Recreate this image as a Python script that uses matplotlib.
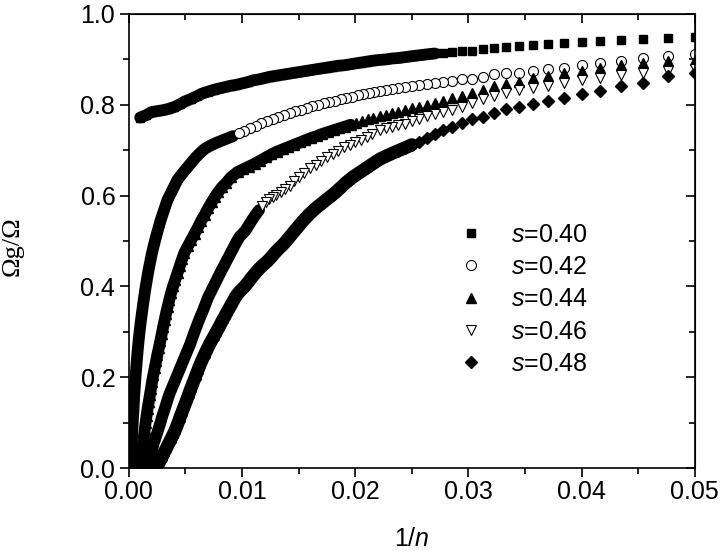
import matplotlib
matplotlib.use("Agg")
import matplotlib.pyplot as plt
from matplotlib.ticker import MultipleLocator, FormatStrFormatter

plt.rcParams["font.family"] = ["Liberation Sans", "DejaVu Sans"]
plt.rcParams["mathtext.fontset"] = "custom"
plt.rcParams["mathtext.rm"] = "Liberation Sans"
plt.rcParams["mathtext.it"] = "Liberation Sans:italic"

# n values of the sparse right part (x = 1/n)
n_sparse = [20, 21, 22, 23, 24, 25, 26, 27, 28, 29, 30, 31, 32,
            33, 34, 35, 36, 37, 38, 39, 40, 41, 42, 43, 44, 45]

# s = 0.40
x_040 = [0.0010, 0.0015, 0.0020, 0.0025, 0.0030, 0.0035, 0.0040, 0.0045, 0.0050, 0.0055,
         0.0060, 0.0065, 0.0070, 0.0075, 0.0080, 0.0085, 0.0090, 0.0095, 0.0100, 0.0105,
         0.0110, 0.0115, 0.0120, 0.0125, 0.0130, 0.0135, 0.0140, 0.0145, 0.0150, 0.0155,
         0.0160, 0.0165, 0.0170, 0.0175, 0.0180, 0.0185, 0.0190, 0.0195, 0.0200, 0.0205,
         0.0210, 0.0215]
y_040 = [0.772, 0.777, 0.784, 0.786, 0.788, 0.791, 0.795, 0.801, 0.808, 0.813,
         0.819, 0.825, 0.829, 0.833, 0.836, 0.839, 0.842, 0.844, 0.847, 0.850,
         0.854, 0.856, 0.859, 0.862, 0.864, 0.866, 0.868, 0.870, 0.872, 0.874,
         0.876, 0.878, 0.880, 0.882, 0.884, 0.886, 0.887, 0.889, 0.891, 0.893,
         0.895, 0.897]
ys_040 = [0.949, 0.947, 0.944, 0.942, 0.941, 0.938, 0.936, 0.933, 0.932, 0.930, 0.928, 0.926, 0.922,
          0.919, 0.919, 0.916, 0.915, 0.913, 0.911, 0.909, 0.907, 0.905, 0.903, 0.902, 0.900, 0.899]

# s = 0.42
x_042 = [0.00015, 0.00018, 0.00021, 0.00024, 0.00027, 0.0003, 0.00033, 0.00036, 0.0004, 0.00043,
         0.00046, 0.0005, 0.00054, 0.00058, 0.00063, 0.00068, 0.00073, 0.00078, 0.00084, 0.0009,
         0.00097, 0.00104, 0.00112, 0.0012, 0.00128, 0.00137, 0.00146, 0.00156, 0.00166, 0.00177,
         0.00189, 0.00201, 0.00215, 0.0023, 0.00246, 0.00263, 0.0028, 0.003, 0.0032, 0.0034,
         0.0037, 0.004, 0.0043, 0.0047, 0.0051, 0.0055, 0.0059, 0.0063, 0.0067, 0.0072,
         0.0077, 0.0082, 0.0087, 0.0092, 0.0097, 0.0102, 0.0107, 0.0112, 0.0117, 0.0122,
         0.0127, 0.0132, 0.0137, 0.0142, 0.0147, 0.0152, 0.0157, 0.0162, 0.0167, 0.0172,
         0.0177, 0.0182, 0.0187, 0.0192, 0.0197, 0.0202, 0.0207, 0.0212, 0.0217]
y_042 = [0.00, 0.02, 0.035, 0.05, 0.065, 0.08, 0.095, 0.11, 0.125, 0.14,
         0.155, 0.17, 0.185, 0.2, 0.215, 0.23, 0.245, 0.26, 0.275, 0.29,
         0.305, 0.32, 0.335, 0.35, 0.365, 0.38, 0.395, 0.41, 0.425, 0.44,
         0.455, 0.47, 0.485, 0.50, 0.515, 0.53, 0.545, 0.56, 0.575, 0.59,
         0.605, 0.62, 0.635, 0.648, 0.66, 0.672, 0.684, 0.694, 0.703, 0.71,
         0.716, 0.721, 0.726, 0.731, 0.737, 0.743, 0.749, 0.754, 0.759, 0.764,
         0.769, 0.774, 0.778, 0.782, 0.786, 0.789, 0.793, 0.797, 0.800, 0.803,
         0.806, 0.809, 0.812, 0.815, 0.818, 0.821, 0.823, 0.826, 0.828]
ys_042 = [0.911, 0.908, 0.904, 0.897, 0.892, 0.888, 0.882, 0.878, 0.875, 0.871, 0.869, 0.867, 0.862,
          0.857, 0.856, 0.853, 0.851, 0.849, 0.846, 0.844, 0.842, 0.840, 0.837, 0.835, 0.832, 0.830]

# s = 0.44
x_044 = [0.0008, 0.0010, 0.00105, 0.0011, 0.00118, 0.00125, 0.00133, 0.0014, 0.00148, 0.00156,
         0.00165, 0.00175, 0.00185, 0.00195, 0.00205, 0.00216, 0.00228, 0.0024, 0.00252, 0.00265,
         0.00278, 0.0029, 0.00302, 0.00315, 0.00328, 0.00342, 0.00357, 0.00372, 0.0039, 0.0041,
         0.0043, 0.0045, 0.0047, 0.0049, 0.0052, 0.0055, 0.0058, 0.0061, 0.0064, 0.0067,
         0.0070, 0.0073, 0.0076, 0.0079, 0.0082, 0.0086, 0.0090, 0.0096, 0.0101, 0.0106,
         0.0111, 0.0116, 0.0121, 0.0126, 0.0131, 0.0136, 0.0141, 0.0146, 0.0151, 0.0156,
         0.0161, 0.0166, 0.0171, 0.0176, 0.0181, 0.0186, 0.0191, 0.0196, 0.0201, 0.0206,
         0.0211, 0.0216]
y_044 = [0.0, 0.0, 0.01, 0.025, 0.04, 0.055, 0.07, 0.085, 0.10, 0.115,
         0.13, 0.145, 0.16, 0.175, 0.19, 0.205, 0.22, 0.235, 0.25, 0.265,
         0.28, 0.295, 0.31, 0.325, 0.34, 0.355, 0.37, 0.385, 0.40, 0.415,
         0.43, 0.445, 0.46, 0.474, 0.488, 0.502, 0.516, 0.53, 0.545, 0.558,
         0.572, 0.585, 0.597, 0.608, 0.618, 0.628, 0.64, 0.652, 0.658, 0.664,
         0.670, 0.677, 0.684, 0.691, 0.697, 0.702, 0.707, 0.712, 0.717, 0.722,
         0.727, 0.731, 0.736, 0.740, 0.744, 0.748, 0.752, 0.756, 0.760, 0.764,
         0.768, 0.771]
ys_044 = [0.899, 0.897, 0.893, 0.888, 0.882, 0.874, 0.869, 0.864, 0.859, 0.851, 0.845, 0.842, 0.832,
          0.827, 0.820, 0.815, 0.809, 0.804, 0.800, 0.796, 0.792, 0.788, 0.785, 0.782, 0.778, 0.775]

# s = 0.46
x_046 = [0.0004, 0.0007, 0.0010, 0.0013, 0.0015, 0.0017, 0.0018, 0.0019, 0.0020, 0.0021,
         0.0022, 0.0023, 0.0024, 0.0025, 0.0026, 0.0027, 0.0028, 0.0029, 0.0030, 0.0031,
         0.0032, 0.0033, 0.0034, 0.0035, 0.0036, 0.0037, 0.0038, 0.0039, 0.0040, 0.0042,
         0.0044, 0.0046, 0.0048, 0.0050, 0.0052, 0.0054, 0.0056, 0.0058, 0.0060, 0.0062,
         0.0064, 0.0066, 0.0068, 0.0070, 0.0072, 0.0074, 0.0076, 0.0078, 0.0080, 0.0082,
         0.0084, 0.0086, 0.0088, 0.0090, 0.0092, 0.0094, 0.0096, 0.0098, 0.0100, 0.0103,
         0.0106, 0.0109, 0.0112, 0.0115, 0.0118, 0.0121, 0.0124, 0.0127, 0.0130, 0.0134,
         0.0138, 0.0142, 0.0146, 0.0150, 0.0155, 0.0160, 0.0165, 0.0170, 0.0175, 0.0180,
         0.0185, 0.0190, 0.0195, 0.0200, 0.0205, 0.0210, 0.0215]
y_046 = [0.0, 0.0, 0.0, 0.0, 0.0, 0.005, 0.015, 0.025, 0.035, 0.045,
         0.055, 0.062, 0.07, 0.077, 0.085, 0.093, 0.101, 0.11, 0.118, 0.125,
         0.133, 0.141, 0.149, 0.157, 0.164, 0.17, 0.176, 0.182, 0.188, 0.2,
         0.212, 0.224, 0.236, 0.248, 0.26, 0.272, 0.286, 0.30, 0.313, 0.326,
         0.338, 0.35, 0.363, 0.376, 0.386, 0.396, 0.406, 0.416, 0.426, 0.436,
         0.445, 0.455, 0.464, 0.474, 0.483, 0.493, 0.502, 0.51, 0.515, 0.523,
         0.535, 0.547, 0.558, 0.568, 0.577, 0.585, 0.592, 0.598, 0.602, 0.607,
         0.614, 0.622, 0.632, 0.641, 0.65, 0.66, 0.668, 0.676, 0.684, 0.691,
         0.698, 0.706, 0.712, 0.718, 0.723, 0.728, 0.735]
ys_046 = [0.878, 0.875, 0.869, 0.866, 0.860, 0.854, 0.849, 0.842, 0.838, 0.832, 0.825, 0.820, 0.812,
          0.805, 0.795, 0.788, 0.785, 0.779, 0.775, 0.769, 0.765, 0.758, 0.755, 0.752, 0.748, 0.745]

# s = 0.48
x_048 = [0.0003, 0.0006, 0.0009, 0.0012, 0.0015, 0.0018, 0.0021, 0.0024, 0.0026, 0.0028,
         0.0030, 0.0032, 0.0034, 0.0036, 0.0038, 0.0040, 0.0042, 0.0044, 0.0046, 0.0048,
         0.0050, 0.0052, 0.0054, 0.0056, 0.0058, 0.0060, 0.0062, 0.0064, 0.0066, 0.0068,
         0.0070, 0.0072, 0.0074, 0.0076, 0.0078, 0.0080, 0.0082, 0.0084, 0.0086, 0.0088,
         0.0090, 0.0092, 0.0094, 0.0096, 0.0098, 0.0100, 0.0102, 0.0104, 0.0106, 0.0108,
         0.0110, 0.0112, 0.0114, 0.0116, 0.0118, 0.0120, 0.0123, 0.0126, 0.0129, 0.0132,
         0.0135, 0.0138, 0.0141, 0.0144, 0.0147, 0.0150, 0.0153, 0.0156, 0.0159, 0.0162,
         0.0165, 0.0168, 0.0171, 0.0174, 0.0177, 0.0180, 0.0183, 0.0186, 0.0189, 0.0192,
         0.0195, 0.0198, 0.0201, 0.0204, 0.0207, 0.0210, 0.0213, 0.0216, 0.0219]
y_048 = [0.0, 0.0, 0.0, 0.0, 0.0, 0.0, 0.0, 0.002, 0.008, 0.018,
         0.028, 0.038, 0.048, 0.058, 0.068, 0.078, 0.09, 0.103, 0.117, 0.13,
         0.143, 0.156, 0.17, 0.183, 0.196, 0.209, 0.222, 0.234, 0.245, 0.256,
         0.266, 0.276, 0.285, 0.294, 0.303, 0.312, 0.322, 0.331, 0.340, 0.349,
         0.358, 0.367, 0.376, 0.383, 0.389, 0.394, 0.399, 0.405, 0.411, 0.418,
         0.424, 0.43, 0.436, 0.441, 0.446, 0.45, 0.457, 0.465, 0.474, 0.482,
         0.489, 0.497, 0.506, 0.515, 0.524, 0.533, 0.542, 0.55, 0.558, 0.565,
         0.572, 0.578, 0.584, 0.59, 0.596, 0.602, 0.608, 0.615, 0.622, 0.629,
         0.635, 0.641, 0.646, 0.651, 0.656, 0.661, 0.666, 0.671, 0.676]
ys_048 = [0.871, 0.864, 0.849, 0.842, 0.831, 0.823, 0.815, 0.808, 0.801, 0.795, 0.790, 0.783, 0.774,
          0.769, 0.759, 0.752, 0.745, 0.735, 0.727, 0.719, 0.712, 0.705, 0.699, 0.693, 0.687, 0.681]

labels = ["$s$=0.40", "$s$=0.42", "$s$=0.44", "$s$=0.46", "$s$=0.48"]

x_sparse = [1.0 / n for n in n_sparse]

# where many 1/n points pile up they merge into a solid band
series = [
    (x_040, y_040, ys_040, 0.0275, True, 8.5, dict(marker="s", ms=6.3, mfc="black", mec="black")),
    (x_042, y_042, ys_042, 0.0095, False, 8.5, dict(marker="o", ms=7.2, mfc="white", mec="black", mew=0.8)),
    (x_044, y_044, ys_044, 0.0200, True, 8.5, dict(marker="^", ms=7.8, mfc="black", mec="black")),
    (x_046, y_046, ys_046, 0.0115, False, 8.5, dict(marker="v", ms=7.8, mfc="white", mec="black", mew=0.8)),
    (x_048, y_048, ys_048, 0.0255, True, 9.5, dict(marker="D", ms=5.8, mfc="black", mec="black")),
]

fig = plt.figure(figsize=(7.2, 5.51), dpi=100)
ax = fig.add_axes([0.179, 0.1506, 0.786, 0.824])

for (xd, yd, ysp, band_end, filled, band_lw, st), lab in zip(series, labels):
    xs = xd + x_sparse[::-1]
    ys = yd + ysp[::-1]
    xb = [x for x in xs if x <= band_end]
    yb = [y for x, y in zip(xs, ys) if x <= band_end]
    ax.plot(xb, yb, color="black", lw=band_lw, solid_capstyle="round",
            solid_joinstyle="round")
    if filled:
        xm, ym = xs, ys
    else:
        xm = [x for x in xs if x > band_end]
        ym = [y for x, y in zip(xs, ys) if x > band_end]
    ax.plot(xm[::-1], ym[::-1], linestyle="none", label=lab, **st)

ax.set_xlim(0, 0.05)
ax.set_ylim(0, 1.0)
ax.xaxis.set_major_locator(MultipleLocator(0.01))
ax.xaxis.set_minor_locator(MultipleLocator(0.005))
ax.yaxis.set_major_locator(MultipleLocator(0.2))
ax.yaxis.set_minor_locator(MultipleLocator(0.1))
ax.xaxis.set_major_formatter(FormatStrFormatter("%.2f"))
ax.yaxis.set_major_formatter(FormatStrFormatter("%.1f"))

for sp in ax.spines.values():
    sp.set_linewidth(1.2)
ax.tick_params(which="both", direction="out", width=1.2, labelsize=18)
ax.tick_params(which="major", length=6.8)
ax.tick_params(which="minor", length=4)
ax.tick_params(axis="x", pad=1.5)
ax.tick_params(axis="y", pad=3)

# top and right ticks point inward
secx = ax.secondary_xaxis("top")
secx.xaxis.set_major_locator(MultipleLocator(0.01))
secx.xaxis.set_minor_locator(MultipleLocator(0.005))
secx.tick_params(which="both", direction="in", width=1.2, labeltop=False)
secx.tick_params(which="major", length=6.8)
secx.tick_params(which="minor", length=4)
secy = ax.secondary_yaxis("right")
secy.yaxis.set_major_locator(MultipleLocator(0.2))
secy.yaxis.set_minor_locator(MultipleLocator(0.1))
secy.tick_params(which="both", direction="in", width=1.2, labelright=False)
secy.tick_params(which="major", length=6.8)
secy.tick_params(which="minor", length=4)

ax.set_xlabel("1/$n$", fontsize=18)
ax.xaxis.set_label_coords(0.5, -0.130)
ax.set_ylabel("\u03a9g/\u03a9", fontsize=19, family=["Liberation Serif", "DejaVu Serif"])
ax.yaxis.set_label_coords(-0.186, 0.489)

ax.legend(loc="upper left", bbox_to_anchor=(0.583, 0.54), frameon=False,
          fontsize=18, handlelength=1.0, handletextpad=1.1, labelspacing=0.33,
          borderpad=0, borderaxespad=0, numpoints=1)

fig.savefig("out.png", dpi=100)
